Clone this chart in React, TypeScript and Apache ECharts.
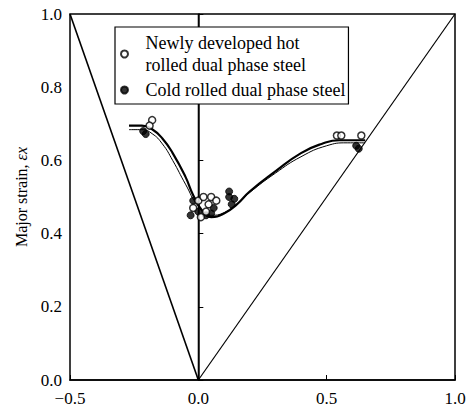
import React, { useEffect, useRef } from "react";
import * as echarts from "echarts";

const xTicks = [-0.5, 0.0, 0.5, 1.0];
const yTicks = [0.0, 0.2, 0.4, 0.6, 0.8, 1.0];

// Forming-limit boundary lines
const uniaxialLine: [number, number][] = [[-0.5, 1.0], [0.0, 0.0]];
const biaxialLine: [number, number][] = [[0.0, 0.0], [1.0, 1.0]];
const planeStrainLine: [number, number][] = [[0.0, 0.0], [0.0, 1.0]];

// Fitted FLCs
const coldCurve: [number, number][] = [
  [-0.27, 0.695], [-0.22, 0.695], [-0.18, 0.685], [-0.14, 0.66], [-0.1, 0.62],
  [-0.05, 0.555], [-0.02, 0.505], [0.02, 0.458], [0.05, 0.445], [0.1, 0.455],
  [0.15, 0.48], [0.2, 0.515], [0.3, 0.57], [0.4, 0.62], [0.48, 0.645],
  [0.55, 0.655], [0.65, 0.655],
];
const hotCurve: [number, number][] = [
  [-0.27, 0.684], [-0.22, 0.684], [-0.18, 0.673], [-0.14, 0.645], [-0.1, 0.6],
  [-0.05, 0.535], [0.0, 0.475], [0.05, 0.45], [0.1, 0.457], [0.15, 0.48],
  [0.2, 0.512], [0.3, 0.565], [0.4, 0.61], [0.5, 0.64], [0.58, 0.648],
  [0.65, 0.648],
];

// Measured points
const hotPoints: [number, number][] = [
  [-0.18, 0.71], [-0.19, 0.695], [-0.02, 0.47], [0.0, 0.49], [0.02, 0.5],
  [0.04, 0.48], [0.05, 0.5], [0.07, 0.49], [0.03, 0.46], [0.01, 0.445],
  [0.54, 0.668], [0.557, 0.668], [0.635, 0.668],
];
const coldPoints: [number, number][] = [
  [-0.215, 0.68], [-0.205, 0.672], [-0.02, 0.49], [-0.03, 0.45], [0.0, 0.46],
  [0.03, 0.45], [0.06, 0.47], [0.05, 0.455], [0.12, 0.515], [0.12, 0.5],
  [0.13, 0.48], [0.14, 0.495], [0.615, 0.64], [0.625, 0.632],
];

const FONT = "Liberation Serif";
const hotName = "Newly developed hot\nrolled dual phase steel";
const coldName = "Cold rolled dual phase steel";

export default function App() {
  const ref = useRef<HTMLDivElement>(null);
  useEffect(() => {
    document.body.style.margin = "0";
    const chart = echarts.init(ref.current!, null, { renderer: "svg" });
    const lineSeries = (data: [number, number][], width: number) => ({
      type: "line",
      data,
      showSymbol: false,
      symbol: "none",
      lineStyle: { color: "#000", width },
      silent: true,
      z: 2,
    });
    chart.setOption({
      animation: false,
      backgroundColor: "#fff",
      textStyle: { fontFamily: FONT, color: "#000" },
      grid: {
        left: 70, right: 18, top: 14, bottom: 40,
        show: true, borderColor: "#000", borderWidth: 1.5,
      },
      legend: {
        left: 115, top: 27,
        orient: "vertical",
        backgroundColor: "#fff",
        borderColor: "#000", borderWidth: 1.2, borderRadius: 0,
        padding: [5, 3, 3, 5],
        itemGap: 3,
        itemWidth: 16, itemHeight: 7,
        textStyle: { fontFamily: FONT, fontSize: 18, color: "#000", lineHeight: 22, padding: [0, 0, 0, 8] },
        data: [
          { name: hotName, icon: "circle" },
          { name: coldName, icon: "circle" },
        ],
      },
      xAxis: {
        type: "value", min: xTicks[0], max: xTicks[xTicks.length - 1], interval: 0.5,
        axisLine: { lineStyle: { color: "#000", width: 1.5 } },
        axisTick: { inside: true, length: 5, lineStyle: { color: "#000" } },
        splitLine: { show: false },
        axisLabel: {
          color: "#000", fontFamily: FONT, fontSize: 17, margin: 10,
          formatter: (v: number) => (v < 0 ? "\u2212" : "") + Math.abs(v).toFixed(1),
        },
      },
      yAxis: {
        type: "value", min: yTicks[0], max: yTicks[yTicks.length - 1], interval: 0.2,
        name: "Major strain, {i|\u03b5x}", nameLocation: "middle", nameGap: 40,
        nameTextStyle: {
          fontFamily: FONT, fontSize: 16, color: "#000",
          rich: { i: { fontFamily: FONT, fontSize: 16, fontStyle: "italic", color: "#000" } },
        },
        axisLine: { lineStyle: { color: "#000", width: 1.5 } },
        axisTick: { inside: true, length: 5, lineStyle: { color: "#000" } },
        splitLine: { show: false },
        axisLabel: {
          color: "#000", fontFamily: FONT, fontSize: 17, margin: 8,
          formatter: (v: number) => v.toFixed(1),
        },
      },
      series: [
        { ...lineSeries(uniaxialLine, 1.6) },
        { ...lineSeries(biaxialLine, 1.2) },
        { ...lineSeries(planeStrainLine, 1.2) },
        { ...lineSeries(coldCurve, 2.2), smooth: true },
        { ...lineSeries(hotCurve, 1), smooth: true },
        {
          name: hotName,
          type: "scatter", data: hotPoints, symbol: "circle", symbolSize: 7,
          itemStyle: { color: "#fff", borderColor: "#000", borderWidth: 1.5 },
          z: 4,
        },
        {
          name: coldName,
          type: "scatter", data: coldPoints, symbol: "circle", symbolSize: 7,
          itemStyle: { color: "#000", borderColor: "#000", borderWidth: 1 },
          z: 3,
        },
      ],
    });
    return () => chart.dispose();
  }, []);
  return <div ref={ref} style={{ position: "fixed", left: 0, top: 0, width: 473, height: 420 }} />;
}
